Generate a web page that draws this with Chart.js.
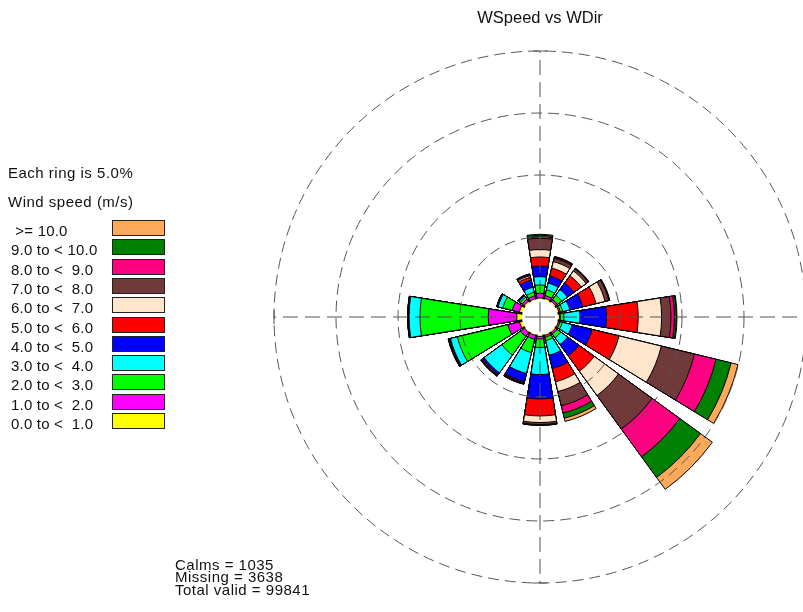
<!DOCTYPE html>
<html>
<head>
<meta charset="utf-8">
<title>WSpeed vs WDir</title>
<script src="https://cdn.jsdelivr.net/npm/chart.js@4.4.1/dist/chart.umd.min.js"></script>
<style>
  html, body { margin: 0; padding: 0; background: #fff; overflow: hidden; }
  #page {
    position: relative; width: 803px; height: 612px; overflow: hidden;
    font-family: "Liberation Sans", Arial, sans-serif; font-size: 15px; color: #111;
  }
  #rose { position: absolute; left: 0; top: 0; }
  .txt { position: absolute; white-space: pre; line-height: 15px; letter-spacing: 0.2px; }
  .wide { letter-spacing: 0.5px; }
  .swatch { position: absolute; width: 51px; height: 14px; border: 1px solid #222; }
</style>
</head>
<body>
<div id="page">
  <canvas id="rose" width="830" height="612"></canvas>
  <div class="txt wide" style="left:8px; top:165px">Each ring is 5.0%</div>
  <div class="txt wide" style="left:8px; top:194px">Wind speed (m/s)</div>
  <div id="legend"></div>
  <div id="stats"></div>
</div>
<script>
const directions = ['N', 'NNE', 'NE', 'ENE', 'E', 'ESE', 'SE', 'SSE',
  'S', 'SSW', 'SW', 'WSW', 'W', 'WNW', 'NW', 'NNW']

// percent of valid observations, one array per speed class, ordered like directions
const ws00to01 = [0.08, 0.10, 0.10, 0.12, 0.12, 0.08, 0.08, 0.08, 0.12, 0.08, 0.08, 0.24, 0.43, 0.26, 0.12, 0.06]
const ws01to02 = [0.38, 0.22, 0.18, 0.12, 0.08, 0.12, 0.16, 0.16, 0.20, 0.32, 0.40, 0.97, 2.29, 0.59, 0.20, 0.24]
const ws02to03 = [0.67, 0.48, 0.44, 0.20, 0.28, 0.20, 0.38, 0.27, 0.69, 1.10, 1.86, 4.19, 5.51, 0.78, 0.20, 0.30]
const ws03to04 = [0.67, 0.56, 0.56, 0.58, 1.29, 0.81, 0.67, 1.21, 2.18, 1.73, 1.77, 0.57, 0.88, 0.39, 0.12, 0.41]
const ws04to05 = [0.86, 0.59, 0.65, 1.07, 2.15, 1.65, 1.13, 1.10, 1.97, 0.68, 0.16, 0.05, 0.04, 0.04, 0.06, 0.59]
const ws05to06 = [0.73, 0.65, 0.73, 1.10, 2.55, 2.24, 1.53, 1.10, 1.37, 0.08, 0.08, 0.04, 0.03, 0.04, 0.03, 0.24]
const ws06to07 = [0.60, 0.54, 0.48, 0.75, 1.89, 3.51, 2.42, 0.81, 0.53, 0.04, 0.03, 0.03, 0.01, 0.01, 0.01, 0.13]
const ws07to08 = [0.91, 0.28, 0.20, 0.32, 0.75, 2.75, 3.35, 1.18, 0.16, 0.06, 0.04, 0.04, 0.02, 0.01, 0.01, 0.09]
const ws08to09 = [0.12, 0.06, 0.04, 0.04, 0.28, 1.79, 2.76, 0.60, 0.04, 0.02, 0.02, 0.02, 0.01, 0.01, 0.01, 0.04]
const ws09to10 = [0.12, 0.06, 0.02, 0.02, 0.15, 1.25, 2.06, 0.43, 0.02, 0.01, 0.01, 0.01, 0.00, 0.00, 0.00, 0.01]
const ws10plus = [0.08, 0.04, 0.02, 0.02, 0.06, 0.57, 1.19, 0.27, 0.02, 0.01, 0.01, 0.01, 0.01, 0.01, 0.00, 0.02]

const speedBins = [ws00to01, ws01to02, ws02to03, ws03to04, ws04to05, ws05to06,
  ws06to07, ws07to08, ws08to09, ws09to10, ws10plus]
const speedLabels = ['0.0 to <  1.0', '1.0 to <  2.0', '2.0 to <  3.0', '3.0 to <  4.0',
  '4.0 to <  5.0', '5.0 to <  6.0', '6.0 to <  7.0', '7.0 to <  8.0', '8.0 to <  9.0',
  '9.0 to < 10.0', ' >= 10.0']
const speedColors = ['#ffff00', '#ff00ff', '#00ff00', '#00ffff', '#0000ff', '#ff0000',
  '#ffe5cc', '#703a3a', '#ff0080', '#008000', '#ffaa5a']

const ringValues = [5, 10, 15, 20]
const calmOffset = -1.45 // calm circle in the middle, in ring units
const calms = 1035
const missing = 3638
const totalValid = 99841

const wedgeAngle = 18
const gapAngle = 360 / directions.length - wedgeAngle
const gridColor = '#555'
const fontFamily = "'Liberation Sans', Arial, sans-serif"

// stacked bars: every class is drawn as the running total, the smaller ones on top
const datasets = speedBins.map((bin, k) => {
  const data = []
  directions.forEach((d, i) => {
    let total = 0
    for (let j = 0; j <= k; j++) total += speedBins[j][i]
    data.push(total, 0)
  })
  return {
    label: speedLabels[k],
    data: data,
    backgroundColor: (c) => (c.dataIndex % 2 ? 'rgba(0,0,0,0)' : speedColors[k]),
    borderColor: '#000',
    borderWidth: (c) => (c.dataIndex % 2 ? 0 : 1),
    angle: (c) => (c.dataIndex % 2 ? gapAngle : wedgeAngle)
  }
})

const slotLabels = []
directions.forEach((d) => slotLabels.push(d, ''))

const calmCircle = {
  id: 'calmCircle',
  afterDatasetsDraw(chart) {
    const r = chart.scales.r
    const ctx = chart.ctx
    ctx.save()
    ctx.fillStyle = '#fff'
    ctx.beginPath()
    ctx.arc(r.xCenter, r.yCenter, r.getDistanceFromCenterForValue(0), 0, Math.PI * 2)
    ctx.fill()
    ctx.restore()
  }
}

// short bars across the ends of the compass lines
const axisCaps = {
  id: 'axisCaps',
  afterDraw(chart) {
    const s = chart.scales.compass
    const ctx = chart.ctx
    const end = s.getDistanceFromCenterForValue(s.max)
    ctx.save()
    ctx.strokeStyle = gridColor
    ctx.lineWidth = 1
    s.getLabels().forEach((lab, i) => {
      const p = s.getPointPosition(i, end)
      const a = s.getIndexAngle(i)
      const dx = Math.cos(a) * 7
      const dy = Math.sin(a) * 7
      ctx.beginPath()
      ctx.moveTo(p.x - dx, p.y - dy)
      ctx.lineTo(p.x + dx, p.y + dy)
      ctx.stroke()
    })
    ctx.restore()
  }
}

Chart.defaults.font.family = fontFamily

new Chart(document.getElementById('rose'), {
  type: 'polarArea',
  data: { labels: slotLabels, datasets: datasets },
  plugins: [calmCircle, axisCaps],
  options: {
    responsive: false,
    animation: false,
    events: [],
    layout: { padding: { left: 274, right: 24, top: 0, bottom: 29 } },
    plugins: {
      legend: { display: false },
      tooltip: { enabled: false },
      title: {
        display: true,
        text: 'WSpeed vs WDir',
        fullSize: false,
        color: '#111',
        font: { size: 16.5, weight: 'normal', lineHeight: 1.2 },
        padding: { top: 9, bottom: 22.2 }
      }
    },
    scales: {
      r: {
        min: calmOffset,
        max: ringValues[ringValues.length - 1],
        startAngle: -wedgeAngle / 2,
        afterBuildTicks: (scale) => {
          scale.ticks = [calmOffset].concat(ringValues).map((v) => ({ value: v }))
        },
        ticks: { display: false },
        pointLabels: { display: false },
        angleLines: { display: false },
        grid: {
          circular: true,
          z: 1,
          lineWidth: 1,
          color: (c) => (c.tick && c.tick.value > 0 ? gridColor : 'rgba(0,0,0,0)')
        },
        border: { dash: [11, 6] }
      },
      compass: {
        type: 'radialLinear',
        axis: 'r',
        labels: ['N', 'E', 'S', 'W'],
        min: calmOffset,
        max: ringValues[ringValues.length - 1],
        startAngle: 0,
        ticks: { display: false },
        pointLabels: { display: false },
        grid: { display: false, z: 1 },
        angleLines: { display: true, color: gridColor, lineWidth: 1, borderDash: [15, 7] }
      }
    }
  }
})

// legend, biggest class on top
const legend = document.getElementById('legend')
for (let k = speedLabels.length - 1, row = 0; k >= 0; k--, row++) {
  const y = 220 + row * 19.3
  const label = document.createElement('div')
  label.className = 'txt'
  label.style.left = '11px'
  label.style.top = (y + 3) + 'px'
  label.textContent = speedLabels[k]
  legend.appendChild(label)
  const box = document.createElement('div')
  box.className = 'swatch'
  box.style.left = '112px'
  box.style.top = y + 'px'
  box.style.background = speedColors[k]
  legend.appendChild(box)
}

const stats = document.getElementById('stats')
;['Calms = ' + calms, 'Missing = ' + missing, 'Total valid = ' + totalValid].forEach((t, i) => {
  const line = document.createElement('div')
  line.className = 'txt wide'
  line.style.left = '175px'
  line.style.top = (557 + i * 12.3) + 'px'
  line.textContent = t
  stats.appendChild(line)
})
</script>
</body>
</html>
